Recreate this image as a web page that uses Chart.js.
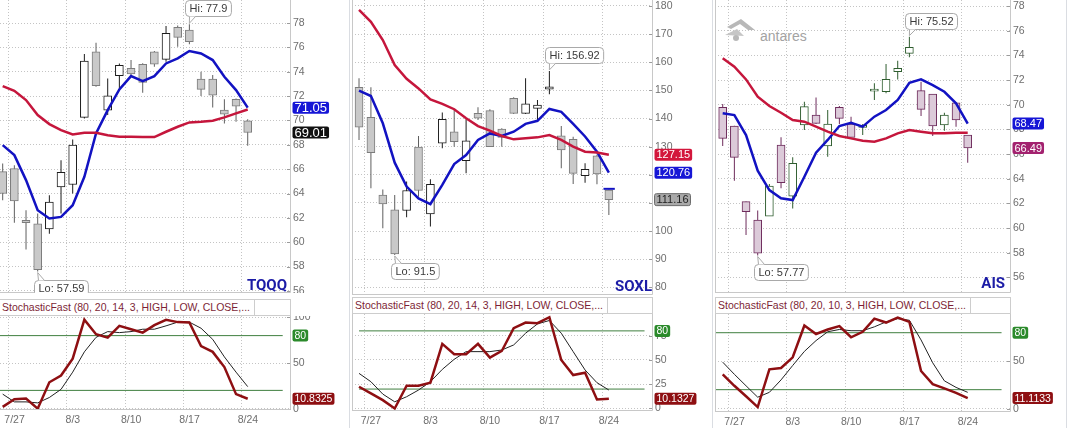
<!DOCTYPE html>
<html>
<head>
<meta charset="utf-8">
<title>TQQQ / SOXL / AIS</title>
<script src="https://cdn.jsdelivr.net/npm/chart.js@4.4.1/dist/chart.umd.min.js"></script>
<style>
  html, body { margin: 0; padding: 0; background: #fff; }
  #page { position: relative; width: 1069px; height: 428px; overflow: hidden; font-family: "Liberation Sans", Arial, sans-serif; }
  canvas, .sep, .hdr, .mark { position: absolute; }
  .sep { top: 0; width: 1px; height: 428px; background: #dadde2; }
  .hdr { height: 17px; box-sizing: border-box; border: 1px solid #cdcdcd; background: #fff; color: #7d1f36;
         font-size: 10.5px; line-height: 15px; white-space: nowrap; overflow: hidden; }
  .hdr span { display: inline-block; height: 15px; padding: 0 4px 0 2px; border-right: 1px solid #cdcdcd; }
</style>
</head>
<body>
<div id="page">
  <div class="sep" style="left:349px"></div>
  <div class="sep" style="left:712px"></div>
  <div class="sep" style="left:1066px"></div>

  <svg class="mark" style="left:723px;top:17px" width="34" height="26">
    <path d="M4 10 L18 2 L32 13 L25 13 L17 7 L8 12 Z" fill="#b8b8b8"/>
    <path d="M2 18 L14 12 L21 19 Z" fill="#c6c6c6"/>
    <circle cx="13" cy="21" r="3" fill="#b8b8b8"/>
  </svg>
  <div class="mark" style="left:760px;top:28px;font-size:14px;color:#a3a3a3">antares</div>

  <canvas id="tqqqPrice" style="left:0;top:0" width="350" height="293"></canvas>
  <canvas id="tqqqStoch" style="left:0;top:316px" width="350" height="112"></canvas>
  <canvas id="soxlPrice" style="left:352px;top:0" width="359" height="295"></canvas>
  <canvas id="soxlStoch" style="left:352px;top:314px" width="359" height="114"></canvas>
  <canvas id="aisPrice" style="left:715px;top:0" width="351" height="293"></canvas>
  <canvas id="aisStoch" style="left:715px;top:314px" width="351" height="114"></canvas>

  <div class="hdr" style="left:-1px;top:299px;width:292px"><span>StochasticFast (80, 20, 14, 3, HIGH, LOW, CLOSE,...</span></div>
  <div class="hdr" style="left:352px;top:297px;width:301px"><span>StochasticFast (80, 20, 14, 3, HIGH, LOW, CLOSE,...</span></div>
  <div class="hdr" style="left:715px;top:297px;width:296px"><span>StochasticFast (80, 20, 10, 3, HIGH, LOW, CLOSE,...</span></div>
</div>

<script>
// week separators sit between Friday and Monday, labels go on the Monday
const dateLabels = ['7/27', '8/3', '8/10', '8/17', '8/24'];
const weekLines = [0.5, 5.5, 10.5, 15.5, 20.5];
const stochLevels = [80, 20];

// TQQQ
const tqqqOpen  = [65.8, 66.05, 61.8, 61.5, 61.1, 64.55, 64.74, 70.25, 75.64, 70.85, 73.67, 74.27, 74.6, 75.64, 75.01, 77.64, 77.42, 73.4, 73.4, 70.85, 71.73, 69.97];
const tqqqHigh  = [66.47, 66.33, 62.63, 62.36, 63.86, 66.74, 68.44, 75.45, 76.38, 73.45, 74.68, 74.96, 74.7, 75.7, 77.75, 77.8, 77.9, 74.0, 73.73, 71.73, 71.8, 70.1];
const tqqqLow   = [63.45, 61.6, 59.4, 57.59, 60.7, 62.36, 64.0, 70.16, 72.77, 70.44, 72.63, 73.64, 72.27, 74.4, 74.82, 76.05, 76.25, 72.0, 71.07, 69.75, 69.9, 67.92];
const tqqqClose = [64.0, 63.4, 61.6, 57.75, 63.3, 65.73, 67.97, 74.88, 72.85, 72.03, 74.52, 73.81, 73.12, 74.63, 77.15, 76.82, 76.47, 72.55, 72.08, 70.52, 71.18, 69.01];
const tqqqMaFast = [67.97, 67.15, 65.10, 62.63, 61.95, 62.08, 63.04, 65.37, 68.93, 70.85, 72.55, 73.64, 73.23, 73.64, 74.68, 75.1, 75.7, 75.5, 74.96, 73.59, 72.49, 71.05];
const tqqqMaSlow = [72.82, 72.44, 71.67, 70.44, 69.70, 69.21, 68.85, 68.99, 68.99, 68.79, 68.66, 68.66, 68.63, 68.63, 69.07, 69.48, 69.84, 69.89, 69.97, 70.25, 70.58, 70.9];
const tqqqK = [1.9, 10.4, 11.1, 0, 28.9, 36.3, 54.8, 97.4, 81.5, 77.8, 90.7, 87, 83.3, 91.5, 97.4, 94.8, 94.4, 68.5, 62.2, 45.6, 15.9, 10.8325];
const tqqqD = [15.9, 7.4, 7.4, 6.3, 12.2, 21.1, 40, 62.2, 78.1, 84.4, 83.3, 84.4, 87, 87, 90.7, 94.8, 94.8, 88.1, 75.9, 56.7, 40, 24.1];
const tqqqTicks = [56, 58, 60, 62, 64, 66, 68, 70, 72, 74, 76, 78];
const tqqqStochTicks = [0, 50, 100];

// SOXL
const soxlOpen  = [151.1, 140.4, 112.8, 107.5, 107.3, 129.8, 106.1, 131.2, 135.3, 125.0, 141.8, 142.8, 136.2, 147.2, 141.8, 143.6, 150.4, 133.8, 132.6, 119.7, 126.7, 114.6];
const soxlHigh  = [154.3, 151.1, 114.8, 112.8, 117.6, 133.8, 118.4, 142.1, 143.0, 139.7, 144.0, 143.3, 136.5, 147.6, 154.3, 146.6, 156.92, 137.3, 133.5, 124.1, 127.2, 114.8];
const soxlLow   = [132.4, 115.2, 101.0, 91.5, 104.9, 112.2, 101.6, 129.4, 130.0, 120.5, 139.5, 130.0, 130.0, 141.6, 141.6, 139.5, 148.6, 122.3, 116.7, 117.2, 116.6, 105.7];
const soxlClose = [136.9, 127.9, 109.6, 91.85, 114.4, 114.4, 116.6, 139.7, 131.8, 132.1, 140.1, 130.0, 133.3, 141.8, 145.2, 144.8, 151.3, 128.8, 120.5, 121.9, 120.3, 111.16];
const soxlMaFast = [149.9, 148.0, 138.3, 124.3, 115.8, 111.6, 109.6, 116.4, 123.8, 127.0, 132.4, 134.7, 133.8, 135.3, 138.1, 139.2, 143.4, 142.4, 138.1, 133.6, 128.2, 120.76];
const soxlMaSlow = [178.6, 174.4, 167.9, 159.0, 154.1, 150.7, 146.8, 145.2, 143.3, 140.1, 137.3, 135.7, 133.8, 132.6, 133.0, 133.3, 134.1, 132.4, 130.0, 128.2, 127.9, 127.15];
const soxlMarker = 115.0;
const soxlK = [22.4, 15.5, 8.6, 0, 23.4, 23.4, 26.6, 66.6, 55.9, 55.9, 66.6, 52.4, 59.3, 82.8, 88.6, 87.9, 94.1, 50, 34.5, 36.9, 9.3, 10.1327];
const soxlD = [36.2, 27.6, 14.8, 6.9, 12.1, 19.0, 27.6, 40.3, 50.7, 58.6, 58.6, 58.6, 60.3, 65.5, 77.6, 87.2, 90.7, 77.6, 58.6, 39.7, 26.6, 19];
const soxlTicks = [80, 90, 100, 110, 120, 130, 140, 150, 160, 170, 180];
const soxlStochTicks = [0, 25, 50, 75];

// AIS
const aisOpen  = [69.78, 68.27, 62.14, 60.65, 60.97, 66.73, 62.59, 68.35, 69.16, 66.65, 69.78, 68.43, 68.16, 71.1, 71.05, 72.68, 74.16, 71.14, 70.86, 68.35, 70.16, 67.54];
const aisHigh  = [70.05, 68.3, 62.14, 61.41, 63.57, 67.35, 65.73, 70.24, 70.59, 69.57, 69.9, 69.03, 68.43, 71.73, 73.3, 73.57, 75.52, 71.86, 70.86, 69.35, 70.2, 67.54];
const aisLow   = [66.65, 63.84, 59.43, 57.77, 60.97, 63.22, 61.59, 67.95, 68.43, 65.78, 68.43, 67.35, 67.54, 70.38, 70.92, 72.05, 73.84, 69.08, 67.46, 67.89, 68.22, 65.3];
const aisClose = [67.27, 65.73, 61.32, 57.95, 63.41, 63.68, 65.24, 69.84, 68.49, 68.43, 68.89, 67.35, 68.27, 71.15, 72.05, 72.95, 74.65, 69.62, 68.27, 69.16, 68.76, 66.49];
const aisMaFast = [69.3, 69.16, 67.54, 64.65, 63.08, 62.41, 62.27, 64.16, 66.11, 67.14, 68.27, 68.54, 68.22, 69.03, 69.57, 70.38, 71.78, 72.05, 71.59, 71.05, 70.11, 68.47];
const aisMaSlow = [73.76, 73.08, 72.05, 70.65, 69.89, 69.35, 68.76, 68.62, 68.22, 67.81, 67.46, 67.27, 67.08, 67.0, 67.27, 67.68, 67.95, 67.81, 67.68, 67.68, 67.73, 67.73];
const aisK = [36.2, 24.1, 13.1, 1.7, 41.4, 42.8, 54.1, 87.6, 78.6, 83.4, 86.9, 75.2, 81.0, 94.8, 90.7, 95.9, 91.4, 39.7, 25.9, 21.4, 16.6, 11.1133];
const aisD = [49.0, 36.2, 24.1, 12.1, 17.2, 30.3, 45.5, 60.3, 71.7, 81.0, 83.4, 82.1, 82.1, 86.2, 91.4, 94.8, 93.1, 72.4, 48.3, 29.3, 22.4, 17.2];
const aisTicks = [56, 58, 60, 62, 64, 66, 68, 70, 72, 74, 76, 78];
const aisStochTicks = [0, 50];

const FONT = '"Liberation Sans", Arial, sans-serif';
const GRID = '#c4c4c4';
const TICK = '#6e6e6e';
const FRAME = '#c8c8c8';
const MA_FAST = '#1212c2';
const MA_SLOW = '#c5163c';
const K_RED = '#8e0f12';
const LEVEL = '#3f7f3f';

const grayCandle = {upFill: '#ffffff', upEdge: '#1c1c1c', upWick: '#1c1c1c', downFill: '#c9c9c9', downEdge: '#7c7c7c', downWick: '#5e5e5e'};
const pinkCandle = {upFill: '#ffffff', upEdge: '#2f5d2f', upWick: '#2f5d2f', downFill: '#dccad9', downEdge: '#6e2c5c', downWick: '#6e2c5c'};

function xy(arr) { return arr.map((v, i) => ({x: i, y: v})); }

function line(arr, color, width) {
  return {type: 'line', data: xy(arr), borderColor: color, borderWidth: width, pointRadius: 0, tension: 0, fill: false, order: 0};
}

function candles(o, h, l, c, pal) {
  const up = c.map((v, i) => v >= o[i]);
  return [
    {type: 'bar', data: o.map((v, i) => ({x: i, y: [v, c[i]]})),
     backgroundColor: up.map(u => u ? pal.upFill : pal.downFill),
     borderColor: up.map(u => u ? pal.upEdge : pal.downEdge),
     borderWidth: 1, borderSkipped: false, barThickness: 8, minBarLength: 2, grouped: false, order: 2},
    {type: 'bar', data: h.map((v, i) => ({x: i, y: [l[i], v]})),
     backgroundColor: up.map(u => u ? pal.upWick : pal.downWick),
     barThickness: 1, inflateAmount: 0, grouped: false, order: 3}
  ];
}

function roundRect(ctx, x, y, w, h, r) {
  ctx.beginPath();
  ctx.moveTo(x + r, y);
  ctx.arcTo(x + w, y, x + w, y + h, r);
  ctx.arcTo(x + w, y + h, x, y + h, r);
  ctx.arcTo(x, y + h, x, y, r);
  ctx.arcTo(x, y, x + w, y, r);
  ctx.closePath();
}

// frame, inner tick marks, hi/lo callouts, price tags, symbol
function overlay(p) {
  return {
    id: 'overlay',
    afterDraw(chart) {
      const ctx = chart.ctx, a = chart.chartArea;
      const xs = chart.scales.x, ys = chart.scales.y;
      ctx.save();
      ctx.lineWidth = 1;

      ctx.strokeStyle = '#9c9c9c';
      ys.ticks.forEach(t => {
        const y = Math.round(ys.getPixelForValue(t.value)) + 0.5;
        ctx.beginPath(); ctx.moveTo(a.right - 4, y); ctx.lineTo(a.right, y); ctx.stroke();
      });

      ctx.strokeStyle = FRAME;
      const L = Math.floor(a.left) + 0.5, R = Math.ceil(a.right) - 0.5, B = Math.ceil(a.bottom) - 0.5;
      ctx.beginPath();
      ctx.moveTo(R, a.top); ctx.lineTo(R, B); ctx.lineTo(a.left, B);
      if (p.frameLeft) { ctx.moveTo(L, a.top); ctx.lineTo(L, B); }
      ctx.stroke();

      ctx.font = '11px ' + FONT;
      ctx.textBaseline = 'middle';
      (p.callouts || []).forEach(c => {
        const px = xs.getPixelForValue(c.idx), py = ys.getPixelForValue(c.value);
        const w = ctx.measureText(c.text).width + 8, h = 16;
        const bx = Math.round(px - 4) + 0.5;
        const by = Math.round(c.above ? py - 8 - h : py + 8) + 0.5;
        const edge = c.above ? by + h : by;
        ctx.fillStyle = '#ffffff';
        ctx.strokeStyle = '#a9a9a9';
        roundRect(ctx, bx, by, w, h, 4);
        ctx.fill(); ctx.stroke();
        ctx.beginPath();
        ctx.moveTo(bx + 4, edge); ctx.lineTo(px, c.above ? py - 1 : py + 1); ctx.lineTo(bx + 10, edge);
        ctx.fill(); ctx.stroke();
        ctx.fillStyle = '#3a3a3a';
        ctx.textAlign = 'left';
        ctx.fillText(c.text, bx + 4, by + h / 2 + 0.5);
      });

      (p.tags || []).forEach(t => {
        ctx.font = (t.size || 11) + 'px ' + FONT;
        const y = ys.getPixelForValue(t.value);
        const w = ctx.measureText(t.text).width + 4, h = 12;
        const x = a.right + 1.5;
        roundRect(ctx, x, y - h / 2, w, h, 2);
        ctx.fillStyle = t.bg; ctx.fill();
        if (t.edge) { ctx.strokeStyle = t.edge; ctx.stroke(); }
        ctx.fillStyle = t.fg || '#ffffff';
        ctx.textAlign = 'left';
        ctx.fillText(t.text, x + 2, y + 0.5);
      });

      if (p.symbol) {
        ctx.font = 'bold 15px Roboto, ' + FONT;
        ctx.fillStyle = '#1b1ba6';
        ctx.textAlign = 'right';
        ctx.textBaseline = 'alphabetic';
        ctx.fillText(p.symbol, a.right - p.symbolGap, a.bottom - p.symbolLift);
      }
      ctx.restore();
    }
  };
}

function xAxis(p, labelled, height) {
  return {
    type: 'linear', min: p.xMin, max: p.xMax, offset: false, bounds: 'data',
    afterBuildTicks: s => { s.ticks = weekLines.map(v => ({value: v})); },
    grid: {offset: false, color: GRID, drawTicks: false},
    border: {display: false, dash: [1, 2]},
    ticks: {display: labelled, callback: (v, i) => dateLabels[i], labelOffset: 6, padding: 4,
            maxRotation: 0, autoSkip: false, color: TICK, font: {size: 10.5, family: FONT}},
    afterFit: s => { s.height = height; s.paddingLeft = 0; s.paddingRight = 0; }
  };
}

function yAxis(min, max, ticks, width) {
  return {
    position: 'right', min: min, max: max, bounds: 'data',
    afterBuildTicks: s => { s.ticks = ticks.map(v => ({value: v})); },
    grid: {color: GRID, drawTicks: false},
    border: {display: false, dash: [1, 2]},
    ticks: {color: TICK, font: {size: 10.5, family: FONT}, padding: 2, autoSkip: false},
    afterFit: s => { s.width = width; s.paddingTop = 0; s.paddingBottom = 0; }
  };
}

function baseOptions(scales) {
  return {
    responsive: false, animation: false, events: [],
    layout: {padding: 0, autoPadding: false},
    plugins: {legend: {display: false}, tooltip: {enabled: false}},
    scales: scales
  };
}

function priceChart(id, p) {
  const hi = Math.max(...p.high), lo = Math.min(...p.low);
  const datasets = [line(p.slow, MA_SLOW, 2.5), line(p.fast, MA_FAST, 2.5)]
    .concat(p.extra || [])
    .concat(candles(p.open, p.high, p.low, p.close, p.pal));
  new Chart(document.getElementById(id), {
    type: 'bar',
    data: {datasets: datasets},
    options: baseOptions({x: xAxis(p, false, 0), y: yAxis(p.yMin, p.yMax, p.ticks, p.axisW)}),
    plugins: [overlay({
      frameLeft: p.frameLeft, symbol: p.symbol, symbolGap: p.symbolGap, symbolLift: p.symbolLift,
      callouts: [
        {idx: p.high.indexOf(hi), value: hi, text: 'Hi: ' + hi, above: true},
        {idx: p.low.indexOf(lo), value: lo, text: 'Lo: ' + lo, above: false}
      ],
      tags: p.tags
    })]
  });
}

function stochChart(id, p) {
  const levels = stochLevels.map(v => ({type: 'line', data: [{x: p.levelFrom, y: v}, {x: p.levelTo, y: v}],
    borderColor: LEVEL, borderWidth: 1, pointRadius: 0, order: 2}));
  new Chart(document.getElementById(id), {
    type: 'line',
    data: {datasets: levels.concat([
      {data: xy(p.k), borderColor: K_RED, borderWidth: 2.5, pointRadius: 0, tension: 0, order: 0},
      {data: xy(p.d), borderColor: '#222222', borderWidth: 1, pointRadius: 0, tension: 0, order: 1}
    ])},
    options: baseOptions({x: xAxis(p, true, p.axisH), y: yAxis(p.yMin, p.yMax, p.ticks, p.axisW)}),
    plugins: [overlay({
      frameLeft: p.frameLeft,
      tags: [
        {value: stochLevels[0], text: String(stochLevels[0]), bg: '#2b8a2b', size: 10.5},
        {value: p.k[p.k.length - 1], text: String(p.k[p.k.length - 1]), bg: '#8e0f12', size: 10.5}
      ]
    })]
  });
}

priceChart('tqqqPrice', {
  open: tqqqOpen, high: tqqqHigh, low: tqqqLow, close: tqqqClose, fast: tqqqMaFast, slow: tqqqMaSlow,
  pal: grayCandle, ticks: tqqqTicks, xMin: -0.23, xMax: 24.71, yMin: 55.83, yMax: 79.89, axisW: 59,
  frameLeft: false, symbol: 'TQQQ', symbolGap: 4, symbolLift: 3,
  tags: [
    {value: tqqqMaFast[21], text: tqqqMaFast[21].toFixed(2), bg: '#1616d6', size: 13},
    {value: tqqqClose[21], text: tqqqClose[21].toFixed(2), bg: '#111111', size: 13}
  ]
});
stochChart('tqqqStoch', {
  k: tqqqK, d: tqqqD, ticks: tqqqStochTicks, xMin: -0.23, xMax: 24.71, yMin: -1.5, yMax: 101.5,
  axisW: 59, axisH: 18, levelFrom: -0.23, levelTo: 24.0, frameLeft: false
});

priceChart('soxlPrice', {
  open: soxlOpen, high: soxlHigh, low: soxlLow, close: soxlClose, fast: soxlMaFast, slow: soxlMaSlow,
  pal: grayCandle, ticks: soxlTicks, xMin: -0.59, xMax: 24.71, yMin: 77.26, yMax: 182.13, axisW: 58,
  frameLeft: true, symbol: 'SOXL', symbolGap: 1, symbolLift: 4,
  extra: [{type: 'line', data: [{x: 20.55, y: soxlMarker}, {x: 21.5, y: soxlMarker}], borderColor: MA_FAST,
           borderWidth: 2, pointRadius: 0, order: 0}],
  tags: [
    {value: soxlMaSlow[21], text: soxlMaSlow[21].toFixed(2), bg: '#d3173c', size: 11},
    {value: soxlMaFast[21], text: soxlMaFast[21].toFixed(2), bg: '#1616d6', size: 11},
    {value: soxlClose[21], text: soxlClose[21].toFixed(2), bg: '#a9a9a9', fg: '#222222', edge: '#6d6d6d', size: 11}
  ]
});
stochChart('soxlStoch', {
  k: soxlK, d: soxlD, ticks: soxlStochTicks, xMin: -0.59, xMax: 24.71, yMin: -2.6, yMax: 97.4,
  axisW: 58, axisH: 17, levelFrom: 0, levelTo: 24.0, frameLeft: true
});

priceChart('aisPrice', {
  open: aisOpen, high: aisHigh, low: aisLow, close: aisClose, fast: aisMaFast, slow: aisMaSlow,
  pal: pinkCandle, ticks: aisTicks, xMin: -0.66, xMax: 24.71, yMin: 54.73, yMax: 78.49, axisW: 55,
  frameLeft: true, symbol: 'AIS', symbolGap: 6, symbolLift: 5,
  tags: [
    {value: aisMaFast[21], text: aisMaFast[21].toFixed(2), bg: '#1616d6', size: 11},
    {value: aisClose[21], text: aisClose[21].toFixed(2), bg: '#a3226f', size: 11}
  ]
});
stochChart('aisStoch', {
  k: aisK, d: aisD, ticks: aisStochTicks, xMin: -0.66, xMax: 24.71, yMin: -3.5, yMax: 99.7,
  axisW: 55, axisH: 16, levelFrom: -0.66, levelTo: 23.9, frameLeft: true
});
</script>
</body>
</html>
